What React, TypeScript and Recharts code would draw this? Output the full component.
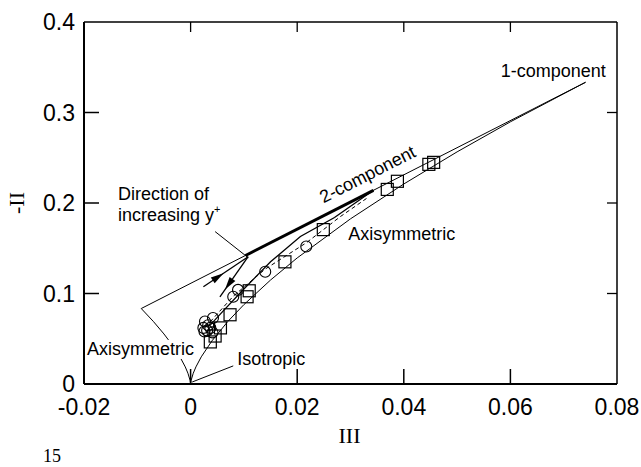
import { ComposedChart, Scatter, XAxis, YAxis, ReferenceLine, ReferenceDot } from 'recharts';

type Pt = { x: number; y: number };

const SANS = '"Liberation Sans", Arial, Helvetica, sans-serif';
const SERIF = '"Liberation Serif", "Times New Roman", serif';

const xTicks = [-0.02, 0, 0.02, 0.04, 0.06, 0.08];
const yTicks = [0, 0.1, 0.2, 0.3, 0.4];
const xInnerTicks = [0, 0.02, 0.04, 0.06];
const yInnerTicks = [0.1, 0.2, 0.3];

// Lumley triangle: axisymmetric branches and the two-component limit (III, -II)
const axiLeft: Pt[] = [
  { x: -0.00926, y: 0.0834 },
  { x: -0.007, y: 0.0692 },
  { x: -0.005, y: 0.0553 },
  { x: -0.0035, y: 0.0436 },
  { x: -0.002, y: 0.03 },
  { x: -0.001, y: 0.0189 },
  { x: -0.0005, y: 0.0119 },
  { x: -0.0001, y: 0.0041 },
  { x: 0, y: 0 },
];
const axiRight: Pt[] = [
  { x: 0, y: 0 },
  { x: 0.0001, y: 0.0041 },
  { x: 0.0005, y: 0.0119 },
  { x: 0.001, y: 0.0189 },
  { x: 0.002, y: 0.03 },
  { x: 0.004, y: 0.0476 },
  { x: 0.007, y: 0.0692 },
  { x: 0.01, y: 0.0877 },
  { x: 0.015, y: 0.1149 },
  { x: 0.02, y: 0.1393 },
  { x: 0.03, y: 0.1825 },
  { x: 0.04, y: 0.221 },
  { x: 0.05, y: 0.2565 },
  { x: 0.06, y: 0.2897 },
  { x: 0.0741, y: 0.3334 },
];
const twoComp: Pt[] = [
  { x: -0.00926, y: 0.0834 },
  { x: 0.0741, y: 0.3334 },
];

// near-wall trajectory running along the 2-component limit
const nearWall: Pt[] = [
  { x: 0.0103, y: 0.142 },
  { x: 0.0343, y: 0.214 },
];
// trajectory coming back towards the cluster
const returnPath: Pt[] = [
  { x: 0.0343, y: 0.214 },
  { x: 0.027, y: 0.184 },
  { x: 0.0206, y: 0.163 },
  { x: 0.015, y: 0.135 },
  { x: 0.01, y: 0.105 },
  { x: 0.006, y: 0.08 },
  { x: 0.0035, y: 0.064 },
];
const dashedPath: Pt[] = [
  { x: 0.0028, y: 0.063 },
  { x: 0.008, y: 0.097 },
  { x: 0.014, y: 0.127 },
  { x: 0.0217, y: 0.156 },
  { x: 0.0281, y: 0.185 },
  { x: 0.033, y: 0.205 },
];

const circles: Pt[] = [
  { x: 0.0024, y: 0.062 },
  { x: 0.0033, y: 0.065 },
  { x: 0.0042, y: 0.073 },
  { x: 0.0027, y: 0.069 },
  { x: 0.0031, y: 0.059 },
  { x: 0.0037, y: 0.062 },
  { x: 0.0026, y: 0.058 },
  { x: 0.0041, y: 0.057 },
  { x: 0.008, y: 0.0964 },
  { x: 0.0089, y: 0.104 },
  { x: 0.014, y: 0.124 },
  { x: 0.0217, y: 0.152 },
];
const squares: Pt[] = [
  { x: 0.0037, y: 0.0465 },
  { x: 0.0046, y: 0.053 },
  { x: 0.0056, y: 0.062 },
  { x: 0.0074, y: 0.0765 },
  { x: 0.0106, y: 0.0964 },
  { x: 0.011, y: 0.103 },
  { x: 0.0177, y: 0.135 },
  { x: 0.0249, y: 0.1706 },
  { x: 0.0369, y: 0.215 },
  { x: 0.0388, y: 0.224 },
  { x: 0.0447, y: 0.2427 },
  { x: 0.0456, y: 0.2449 },
];

const fmtX = (v: number) => (v === 0 ? '0' : v.toFixed(2));
const fmtY = (v: number) => (v === 0 ? '0' : v.toFixed(1));

const BottomTick = (p: any) => (
  <text x={p.x} y={p.y + 31} textAnchor="middle" fontSize={23} fontFamily={SANS} fill="#000">
    {fmtX(p.payload.value)}
  </text>
);

const LeftTick = (p: any) => (
  <text x={p.x - 9} y={p.y} dy="0.36em" textAnchor="end" fontSize={23} fontFamily={SANS} fill="#000">
    {fmtY(p.payload.value)}
  </text>
);

// inward tick marks: long on bottom/left, short on top/right
const vTickMarks = (p: any) => (
  <g>
    <line x1={p.x1} x2={p.x1} y1={p.y1} y2={p.y1 - 15} stroke="#000" strokeWidth={1.5} />
    <line x1={p.x2} x2={p.x2} y1={p.y2} y2={p.y2 + 10} stroke="#000" strokeWidth={1.3} />
  </g>
);
const hTickMarks = (p: any) => (
  <g>
    <line x1={p.x1} x2={p.x1 + 15} y1={p.y1} y2={p.y1} stroke="#000" strokeWidth={1.5} />
    <line x1={p.x2} x2={p.x2 - 10} y1={p.y2} y2={p.y2} stroke="#000" strokeWidth={1.3} />
  </g>
);

const squareShape = (p: any) => (
  <rect x={p.cx - 6} y={p.cy - 6} width={12} height={12} fill="none" stroke="#000" strokeWidth={1.2} />
);
const circleShape = (p: any) => (
  <circle cx={p.cx} cy={p.cy} r={5.5} fill="none" stroke="#000" strokeWidth={1.1} />
);
const noShape = () => <g />;

// line with a filled arrowhead placed at fraction t along it
const arrowShape = (t: number) => (p: any) => {
  const { x1, y1, x2, y2 } = p;
  const dx = x2 - x1;
  const dy = y2 - y1;
  const len = Math.hypot(dx, dy) || 1;
  const ux = dx / len;
  const uy = dy / len;
  const hx = x1 + dx * t;
  const hy = y1 + dy * t;
  const bx = hx - ux * 13;
  const by = hy - uy * 13;
  const pts = `${hx},${hy} ${bx - uy * 3.5},${by + ux * 3.5} ${bx + uy * 3.5},${by - ux * 3.5}`;
  return (
    <g>
      <line x1={x1} y1={y1} x2={x2} y2={y2} stroke="#000" strokeWidth={1.3} />
      <polygon points={pts} fill="#000" />
    </g>
  );
};

const note = (text: string, opts: { bg?: number } = {}) => (p: any) => (
  <g>
    {opts.bg ? <rect x={p.cx - 1} y={p.cy - 15} width={opts.bg} height={19} fill="#fff" /> : null}
    <text x={p.cx} y={p.cy} fontSize={18} fontFamily={SANS} fill="#000">
      {text}
    </text>
  </g>
);

const yPlusNote = (p: any) => (
  <text x={p.cx} y={p.cy} fontSize={18} fontFamily={SANS} fill="#000">
    increasing y<tspan dy={-8} fontSize={11}>+</tspan>
  </text>
);

const rotatedNote = (p: any) => (
  <text
    x={p.cx}
    y={p.cy}
    transform={`rotate(-27 ${p.cx} ${p.cy})`}
    textAnchor="middle"
    dominantBaseline="central"
    fontSize={18}
    fontFamily={SANS}
    fill="#000"
  >
    2-component
  </text>
);

export default function App() {
  return (
    <div style={{ position: 'absolute', left: 0, top: 0, width: 641, height: 467 }}>
      <ComposedChart width={641} height={467} margin={{ top: 22, right: 24, bottom: 0, left: 0 }}>
        <XAxis
          dataKey="x"
          type="number"
          domain={[-0.02, 0.08]}
          ticks={xTicks}
          interval={0}
          height={83}
          tickSize={0}
          tickMargin={0}
          tickLine={false}
          tick={BottomTick}
          axisLine={{ stroke: '#000', strokeWidth: 2 }}
          label={{
            content: (props: any) => {
              const vb = props.viewBox;
              return (
                <text x={vb.x + vb.width / 2 - 1} y={vb.y + 59} textAnchor="middle" fontSize={22} fontFamily={SERIF} fill="#000">
                  III
                </text>
              );
            },
          }}
        />
        <YAxis
          dataKey="y"
          type="number"
          domain={[0, 0.4]}
          ticks={yTicks}
          interval={0}
          width={84}
          tickSize={0}
          tickMargin={0}
          tickLine={false}
          tick={LeftTick}
          axisLine={{ stroke: '#000', strokeWidth: 2 }}
          label={{
            content: (props: any) => {
              const vb = props.viewBox;
              const cx = vb.x + 16;
              const cy = vb.y + vb.height / 2;
              return (
                <text
                  x={cx}
                  y={cy}
                  transform={`rotate(-90 ${cx} ${cy})`}
                  textAnchor="middle"
                  dominantBaseline="central"
                  fontSize={22}
                  fontFamily={SERIF}
                  fill="#000"
                >
                  -II
                </text>
              );
            },
          }}
        />

        {/* frame: top and right edges */}
        <ReferenceLine y={0.4} stroke="#000" strokeWidth={1.5} />
        <ReferenceLine x={0.08} stroke="#000" strokeWidth={1.5} />
        {xInnerTicks.map((v) => (
          <ReferenceLine key={`xt${v}`} x={v} shape={vTickMarks} />
        ))}
        {yInnerTicks.map((v) => (
          <ReferenceLine key={`yt${v}`} y={v} shape={hTickMarks} />
        ))}

        <Scatter data={axiLeft} fill="#000" line={{ stroke: '#000', strokeWidth: 1 }} lineType="joint" shape={noShape} isAnimationActive={false} />
        <Scatter data={axiRight} fill="#000" line={{ stroke: '#000', strokeWidth: 1 }} lineType="joint" shape={noShape} isAnimationActive={false} />
        <Scatter data={twoComp} fill="#000" line={{ stroke: '#000', strokeWidth: 1 }} lineType="joint" shape={noShape} isAnimationActive={false} />
        <Scatter data={nearWall} fill="#000" line={{ stroke: '#000', strokeWidth: 3 }} lineType="joint" shape={noShape} isAnimationActive={false} />
        <Scatter data={returnPath} fill="#000" line={{ stroke: '#000', strokeWidth: 1.3 }} lineType="joint" shape={noShape} isAnimationActive={false} />
        <Scatter
          data={dashedPath}
          fill="#000"
          line={{ stroke: '#000', strokeWidth: 1, strokeDasharray: '4 3' }}
          lineType="joint"
          shape={noShape}
          isAnimationActive={false}
        />
        <Scatter data={circles} fill="none" shape={circleShape} isAnimationActive={false} />
        <Scatter data={squares} fill="none" shape={squareShape} isAnimationActive={false} />

        {/* direction arrows and leader lines */}
        <ReferenceLine segment={[{ x: 0.0024, y: 0.1075 }, { x: 0.0108, y: 0.1407 }]} shape={arrowShape(0.45)} />
        <ReferenceLine segment={[{ x: 0.0108, y: 0.1407 }, { x: 0.0055, y: 0.0964 }]} shape={arrowShape(0.82)} />
        <ReferenceLine segment={[{ x: 0.0046, y: 0.1684 }, { x: 0.0108, y: 0.1396 }]} stroke="#000" strokeWidth={1} />
        <ReferenceLine segment={[{ x: 0.008, y: 0.02 }, { x: 0.0003, y: 0.0022 }]} stroke="#000" strokeWidth={1} />

        <ReferenceDot x={-0.01361} y={0.2028} r={0} shape={note('Direction of')} />
        <ReferenceDot x={-0.01361} y={0.1806} r={0} shape={yPlusNote} />
        <ReferenceDot x={0.0582} y={0.3391} r={0} shape={note('1-component')} />
        <ReferenceDot x={0.0332} y={0.2316} r={0} shape={rotatedNote} />
        <ReferenceDot x={0.0296} y={0.1596} r={0} shape={note('Axisymmetric')} />
        <ReferenceDot x={-0.01944} y={0.0321} r={0} shape={note('Axisymmetric', { bg: 113 })} />
        <ReferenceDot x={0.00876} y={0.0211} r={0} shape={note('Isotropic')} />
      </ComposedChart>
      <div style={{ position: 'absolute', left: 43, top: 449, fontFamily: SERIF, fontSize: 18, lineHeight: '14px' }}>15</div>
    </div>
  );
}
